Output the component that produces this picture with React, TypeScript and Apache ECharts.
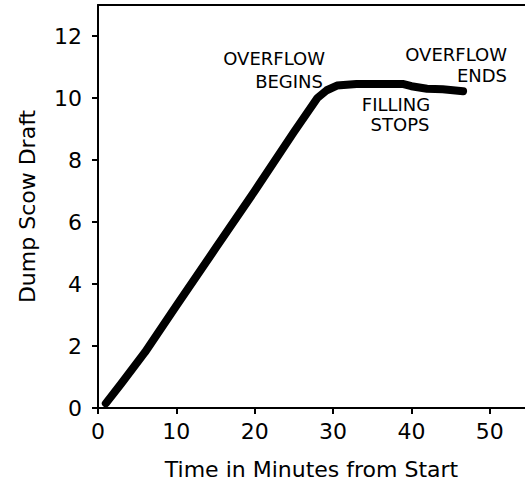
import React, { useEffect, useRef } from "react";
import * as echarts from "echarts";

const timeMinutes = [1, 3, 6, 10, 15, 20, 25, 28, 29.2, 30.5, 33, 36, 39, 40, 42, 44, 46.6];
const draft = [0.15, 0.8, 1.8, 3.3, 5.15, 7.0, 8.9, 10.0, 10.25, 10.4, 10.45, 10.45, 10.45, 10.38, 10.3, 10.28, 10.22];
const xTicks = [0, 10, 20, 30, 40, 50];
const yTicks = [0, 2, 4, 6, 8, 10, 12];

const FONT = "DejaVu Sans";

export default function App() {
  const ref = useRef<HTMLDivElement>(null);
  useEffect(() => {
    if (!ref.current) return;
    const chart = echarts.init(ref.current, null, { renderer: "svg" });
    const axisLine = { show: true, lineStyle: { color: "#000", width: 2 } };
    const annot = (text: string, x: number, y: number, align: string) => ({
      type: "text",
      x,
      y,
      style: {
        text,
        fill: "#000",
        font: `18px "${FONT}"`,
        align,
        verticalAlign: "middle",
      },
    });
    chart.setOption({
      animation: false,
      backgroundColor: "#fff",
      grid: { left: 98, right: 0, top: 5, bottom: 80 },
      xAxis: [
        {
          type: "value",
          min: 0,
          max: 54.5,
          position: "bottom",
          axisLine,
          splitLine: { show: false },
          axisTick: {
            show: true,
            inside: false,
            length: 6,
            customValues: xTicks,
            lineStyle: { color: "#000", width: 2 },
          },
          axisLabel: {
            customValues: xTicks,
            margin: 12,
            color: "#000",
            fontSize: 22,
            fontFamily: FONT,
          },
          name: "Time in Minutes from Start",
          nameLocation: "middle",
          nameGap: 50,
          nameTextStyle: { color: "#000", fontSize: 22, fontFamily: FONT },
        },
        {
          type: "value",
          min: 0,
          max: 54.5,
          position: "top",
          axisLine,
          axisTick: { show: false },
          axisLabel: { show: false },
          splitLine: { show: false },
        },
      ],
      yAxis: {
        type: "value",
        min: 0,
        max: 13,
        axisLine,
        splitLine: { show: false },
        axisTick: {
          show: true,
          inside: false,
          length: 6,
          customValues: yTicks,
          lineStyle: { color: "#000", width: 2 },
        },
        axisLabel: {
          customValues: yTicks,
          margin: 16,
          color: "#000",
          fontSize: 22,
          fontFamily: FONT,
        },
        name: "Dump Scow Draft",
        nameLocation: "middle",
        nameGap: 60,
        nameTextStyle: { color: "#000", fontSize: 22, fontFamily: FONT },
      },
      series: [
        {
          type: "line",
          data: timeMinutes.map((t, i) => [t, draft[i]]),
          showSymbol: false,
          symbol: "none",
          lineStyle: { color: "#000", width: 8, cap: "round", join: "round" },
        },
      ],
      graphic: [
        annot("OVERFLOW", 325, 58, "right"),
        annot("BEGINS", 323, 81, "right"),
        annot("OVERFLOW", 507, 54, "right"),
        annot("ENDS", 507, 75, "right"),
        annot("FILLING", 396, 104, "center"),
        annot("STOPS", 400, 124, "center"),
      ],
    });
    return () => chart.dispose();
  }, []);
  return (
    <div
      ref={ref}
      style={{ position: "absolute", left: 0, top: 0, width: 525, height: 488 }}
    />
  );
}
